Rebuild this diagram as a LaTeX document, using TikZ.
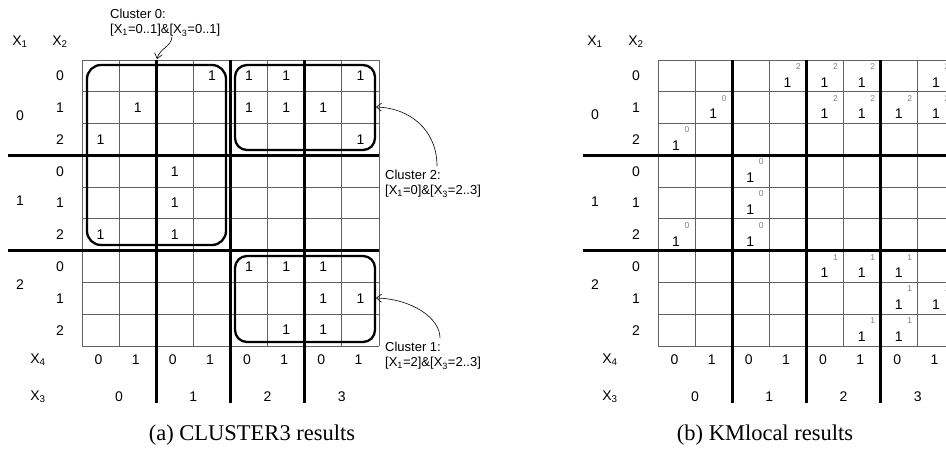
\documentclass[tikz,border=0pt]{standalone}
\usepackage{fontspec}
\setmainfont{Liberation Sans}
\newfontfamily\capfont{Liberation Serif}
\usetikzlibrary{arrows.meta}
\tikzset{
  thin/.style={draw=black!62, line width=0.8pt},
  thickl/.style={draw=black, line width=2.7pt},
  clbox/.style={draw=black, line width=2.3pt, rounded corners=14pt},
  cell/.style={font=\fontsize{14}{14}\selectfont, inner sep=0pt},
  supn/.style={font=\fontsize{8.5}{9}\selectfont, text=black!50, inner sep=0pt},
  lab/.style={font=\fontsize{13}{15}\selectfont, align=left, inner sep=0pt, anchor=west},
  capt/.style={font=\capfont\fontsize{22.5}{22.5}\selectfont, inner sep=0pt},
  arr/.style={-{Straight Barb[length=5pt,width=8pt]}, line width=0.6pt}
}
\begin{document}
\begin{tikzpicture}[x=1pt,y=-1pt]
\useasboundingbox (0,0) rectangle (946,449);
\clip (0,0) rectangle (946,449);
\def\cw{37.125}
\def\rh{31.78}
% ---------- grids ----------
\foreach \ox/\hx in {82/8, 658/583}{
  \foreach \i in {0,1,3,5,7,8}{
    \draw[thin] (\ox+\i*\cw,60) -- (\ox+\i*\cw,346);
  }
  \foreach \j in {0,1,2,4,5,7,8,9}{
    \draw[thin] (\ox,60+\j*\rh) -- (\ox+8*\cw,60+\j*\rh);
  }
  \foreach \j in {3,6}{
    \draw[thickl] (\hx,60+\j*\rh) -- (\ox+8*\cw,60+\j*\rh);
  }
  \foreach \i in {2,4,6}{
    \draw[thickl] (\ox+\i*\cw,60) -- (\ox+\i*\cw,403);
  }
}
% ---------- headers ----------
\begin{scope}[every node/.style={cell}]
\node (aX1) at (20,42) {X\textsubscript{1}};
\node (aX2) at (60,42) {X\textsubscript{2}};
\node (aX4) at (38,360) {X\textsubscript{4}};
\node (aX3) at (38,397) {X\textsubscript{3}};
\node (aA0) at (20,116) {0};
\node (aA1) at (20,201) {1};
\node (aA2) at (20,285) {2};
\node (bX1) at (595,42) {X\textsubscript{1}};
\node (bX2) at (636,42) {X\textsubscript{2}};
\node (bX4) at (610,360) {X\textsubscript{4}};
\node (bX3) at (610,397) {X\textsubscript{3}};
\node (bA0) at (595,115) {0};
\node (bA1) at (595,202) {1};
\node (bA2) at (595,285) {2};
\foreach \p/\ox/\lx in {a/82/60, b/658/636}{
  \foreach \j in {0,...,8}{
    \pgfmathtruncatemacro\v{mod(\j,3)}
    \node (\p r\j) at (\lx,60+\j*\rh+\rh/2) {\v};
  }
  \foreach \i in {0,...,7}{
    \pgfmathtruncatemacro\v{mod(\i,2)}
    \node (\p c\i) at (\ox+\i*\cw+\cw/2-2,360) {\v};
  }
  \foreach \k in {0,...,3}{
    \node (\p g\k) at (\ox+\k*2*\cw+\cw,397) {\k};
  }
}
% ---------- left cells ----------
\foreach \r/\c in {0/3,0/4,0/5,0/7,1/1,1/4,1/5,1/6,2/0,2/7,3/2,4/2,5/0,5/2,6/4,6/5,6/6,7/6,7/7,8/5,8/6}{
  \node (a\r-\c) at (82+\c*\cw+\cw/2,60+\r*\rh+\rh/2) {1};
}
% ---------- right cells ----------
\foreach \r/\c/\k in {0/3/2,0/4/2,0/5/2,0/7/2,1/1/0,1/4/2,1/5/2,1/6/2,1/7/2,2/0/0,3/2/0,4/2/0,5/0/0,5/2/0,6/4/1,6/5/1,6/6/1,7/6/1,7/7/1,8/5/1,8/6/1}{
  \node (b\r-\c) at (658+\c*\cw+\cw/2-0.5,60+\r*\rh+\rh/2+6.5) {1};
  \node[supn] (s\r-\c) at (658+\c*\cw+\cw/2+10.5,60+\r*\rh+6.5) {\k};
}
\end{scope}
% ---------- cluster boxes ----------
\draw[clbox] (87,65) rectangle (226,245);
\draw[clbox, rounded corners=12pt] (235,65) rectangle (375,150);
\draw[clbox, rounded corners=12pt] (235,256) rectangle (375,342);
% ---------- labels ----------
\node[lab] (l0) at (110,23) {Cluster 0:\\{}[X\textsubscript{1}=0..1]\&[X\textsubscript{3}=0..1]};
\node[lab] (l2) at (385,184) {Cluster 2:\\{}[X\textsubscript{1}=0]\&[X\textsubscript{3}=2..3]};
\node[lab] (l1) at (385,356) {Cluster 1:\\{}[X\textsubscript{1}=2]\&[X\textsubscript{3}=2..3]};
\coordinate (t0) at (157,59);
\coordinate (t2) at (376,107);
\coordinate (t1) at (376,298);
\draw[arr] (172,37) .. controls (171,47) and (160,48) .. (t0);
\draw[arr] (437,166) .. controls (437,130) and (410,108) .. (t2);
\draw[arr] (440,338) .. controls (440,318) and (412,299) .. (t1);
% ---------- captions ----------
\node[capt] (capa) at (252,435) {(a) CLUSTER3 results};
\node[capt] (capb) at (765,435) {(b) KMlocal results};
\end{tikzpicture}
\end{document}
